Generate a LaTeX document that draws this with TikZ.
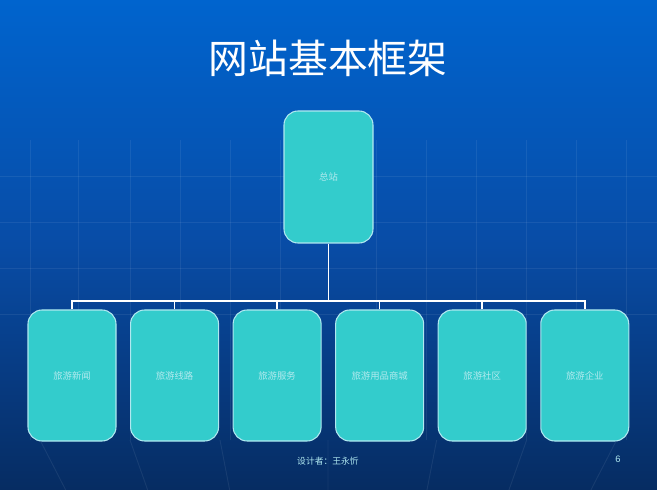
\documentclass[tikz,border=0pt]{standalone}
\usepackage{fontspec}
\setmainfont{Noto Sans CJK SC}
\newfontfamily\numfont{Liberation Sans}
\usepackage{tikz}
\usetikzlibrary{positioning, calc}
\definecolor{bgtop}{RGB}{0,100,206}
\definecolor{bgmid}{RGB}{8,76,166}
\definecolor{bgbot}{RGB}{6,44,98}
\definecolor{boxfill}{RGB}{51,204,204}
\definecolor{boxline}{RGB}{176,232,240}
\definecolor{boxtext}{RGB}{178,234,238}
\tikzstyle{block} = [rectangle, rounded corners=0.42cm, minimum width=2.64cm, minimum height=3.93cm, text centered, draw=boxline, line width=0.9pt, fill=boxfill, text=boxtext, font=\fontsize{8}{9}\selectfont]
\tikzstyle{link} = [draw=white, line width=1.3pt]
\tikzstyle{gridline} = [white, opacity=0.07, line width=0.8pt]
\tikzstyle{titletext} = [text=white, font=\fontsize{34}{36}\selectfont]
\tikzstyle{foot} = [text=boxline, font=\fontsize{7.5}{9}\selectfont]

\begin{document}
\begin{tikzpicture}[node distance=0.405cm]
        % background
        \fill [top color=bgtop, bottom color=bgbot, middle color=bgmid] (0,0) rectangle (19.71,-14.7);
        \begin{scope}
        \clip (0,0) rectangle (19.71,-14.7);
        \foreach \y in {-5.28,-6.66,-8.04,-9.42} \draw [gridline] (0,\y) -- (19.71,\y);
        \foreach \x in {0.9,2.34,3.9,5.4,6.9,8.4,11.3,12.8,14.3,15.8,17.3,18.8} \draw [gridline] (\x,-4.2) -- (\x,-13.2);
        \foreach \x in {-1.5,1.2,3.9,6.6,9.84,13.1,15.8,18.5,21.2} \draw [gridline] (\x,-13.2) -- ($(\x,-13.2)!0.09!(9.84,-30)$);
        \end{scope}
        \useasboundingbox (0,0) rectangle (19.71,-14.7);

        \node (title) [titletext] at (9.84,-1.74) {网站基本框架};

        \node (root) [block, minimum width=2.67cm, minimum height=3.96cm] at (9.855,-5.31) {总站};
        \node (news) [block] at (2.16,-11.265) {旅游新闻};
        \node (route) [block, right=of news] {旅游线路};
        \node (service) [block, right=of route] {旅游服务};
        \node (shop) [block, right=of service] {旅游用品商城};
        \node (community) [block, right=of shop] {旅游社区};
        \node (firm) [block, right=of community] {旅游企业};

        % tree lines
        \coordinate (bus) at (root.south |- 0,-9.03);
        \draw [link] (root.south) -- (bus);
        \draw [link] (news.north) |- (bus) -| (firm.north);
        \foreach \n in {route,service,shop,community}
            \draw [link] (\n.north) -- (\n.north |- bus);

        \node (author) [foot] at (9.84,-13.83) {设计者：王永忻};
        \node (page) [foot, font=\numfont\fontsize{8}{9}\selectfont] at (18.54,-13.77) {6};
    \end{tikzpicture}
\end{document}
